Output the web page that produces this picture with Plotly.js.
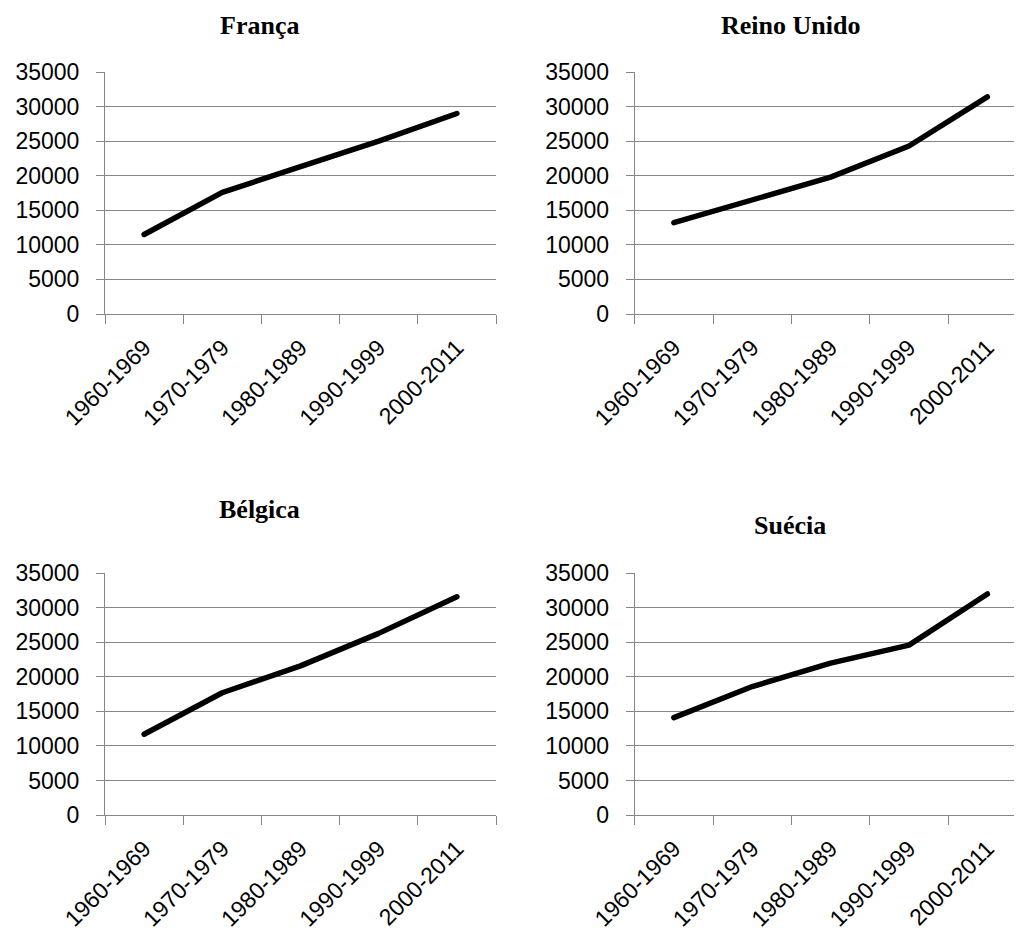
<!DOCTYPE html>
<html>
<head>
<meta charset="utf-8">
<script src="https://cdn.plot.ly/plotly-3.0.1.min.js"></script>
<style>
  html, body { margin: 0; padding: 0; background: #fff; }
  #chart { width: 1016px; height: 931px; }
  #chart .scatterlayer path.js-line { stroke-linecap: round; stroke-linejoin: round; }
</style>
</head>
<body>
<div id="chart"></div>
<script>
// Rendimento médio por década, quatro países
const categories = ["1960-1969", "1970-1979", "1980-1989", "1990-1999", "2000-2011"];
const franca     = [11500, 17600, 21300, 25000, 29000];
const reinoUnido = [13200, 16500, 19800, 24300, 31400];
const belgica    = [11700, 17700, 21600, 26300, 31600];
const suecia     = [14100, 18600, 22000, 24600, 32000];
const yTickVals  = [0, 5000, 10000, 15000, 20000, 25000, 30000, 35000];

const W = 1016, H = 931;
const px = x => x / W;            // horizontal pixel -> paper fraction
const py = y => 1 - y / H;        // vertical pixel -> paper fraction

const gridColor = "#868686";
const tickFont = { family: "Liberation Sans, Arial, sans-serif", size: 23, color: "#000" };
const titleFont = { family: "Liberation Serif, Times New Roman, serif", size: 26, color: "#000" };

const panels = [
  { name: "França",      y: franca,     x0: 105,   x1: 496,  top: 72,    bot: 314, tx: 259, ty: 25,  right: 4.5 },
  { name: "Reino Unido", y: reinoUnido, x0: 634.7, x1: 1014, top: 72,    bot: 314, tx: 790, ty: 25,  right: 4.34 },
  { name: "Bélgica",     y: belgica,    x0: 105,   x1: 496,  top: 573.3, bot: 815, tx: 259, ty: 510, right: 4.5 },
  { name: "Suécia",      y: suecia,     x0: 634.7, x1: 1014, top: 573.3, bot: 815, tx: 790, ty: 525, right: 4.34 }
];

const traces = [];
const layout = {
  width: W, height: H,
  margin: { l: 0, r: 0, t: 0, b: 0 },
  paper_bgcolor: "#fff", plot_bgcolor: "#fff",
  showlegend: false,
  annotations: []
};

panels.forEach((p, i) => {
  const n = i === 0 ? "" : String(i + 1);
  traces.push({
    type: "scatter", mode: "lines",
    x: categories, y: p.y,
    xaxis: "x" + n, yaxis: "y" + n,
    line: { color: "#000", width: 5.5 },
    hoverinfo: "x+y"
  });
  layout["xaxis" + n] = {
    domain: [px(p.x0), px(p.x1)],
    anchor: "y" + n,
    type: "category",
    range: [-0.5, p.right],
    showgrid: false, zeroline: false,
    showline: true, linecolor: gridColor, linewidth: 1,
    ticks: "outside", tickson: "boundaries", ticklen: 9, tickcolor: gridColor, tickwidth: 1,
    tickangle: -45,
    ticklabelstandoff: 10,
    tickfont: tickFont
  };
  layout["yaxis" + n] = {
    domain: [py(p.bot), py(p.top)],
    anchor: "x" + n,
    range: [0, 35000],
    tickvals: yTickVals,
    ticktext: yTickVals.map(String),
    showgrid: true, gridcolor: gridColor, gridwidth: 1,
    zeroline: false,
    showline: true, linecolor: gridColor, linewidth: 1,
    ticks: "outside", ticklen: 8, tickcolor: gridColor, tickwidth: 1,
    ticklabelstandoff: 12,
    tickfont: tickFont
  };
  layout.annotations.push({
    text: "<b>" + p.name + "</b>",
    xref: "paper", yref: "paper",
    x: px(p.tx), y: py(p.ty),
    xanchor: "center", yanchor: "middle",
    showarrow: false,
    font: titleFont
  });
});

Plotly.newPlot("chart", traces, layout, { displayModeBar: false, staticPlot: true });
</script>
</body>
</html>
